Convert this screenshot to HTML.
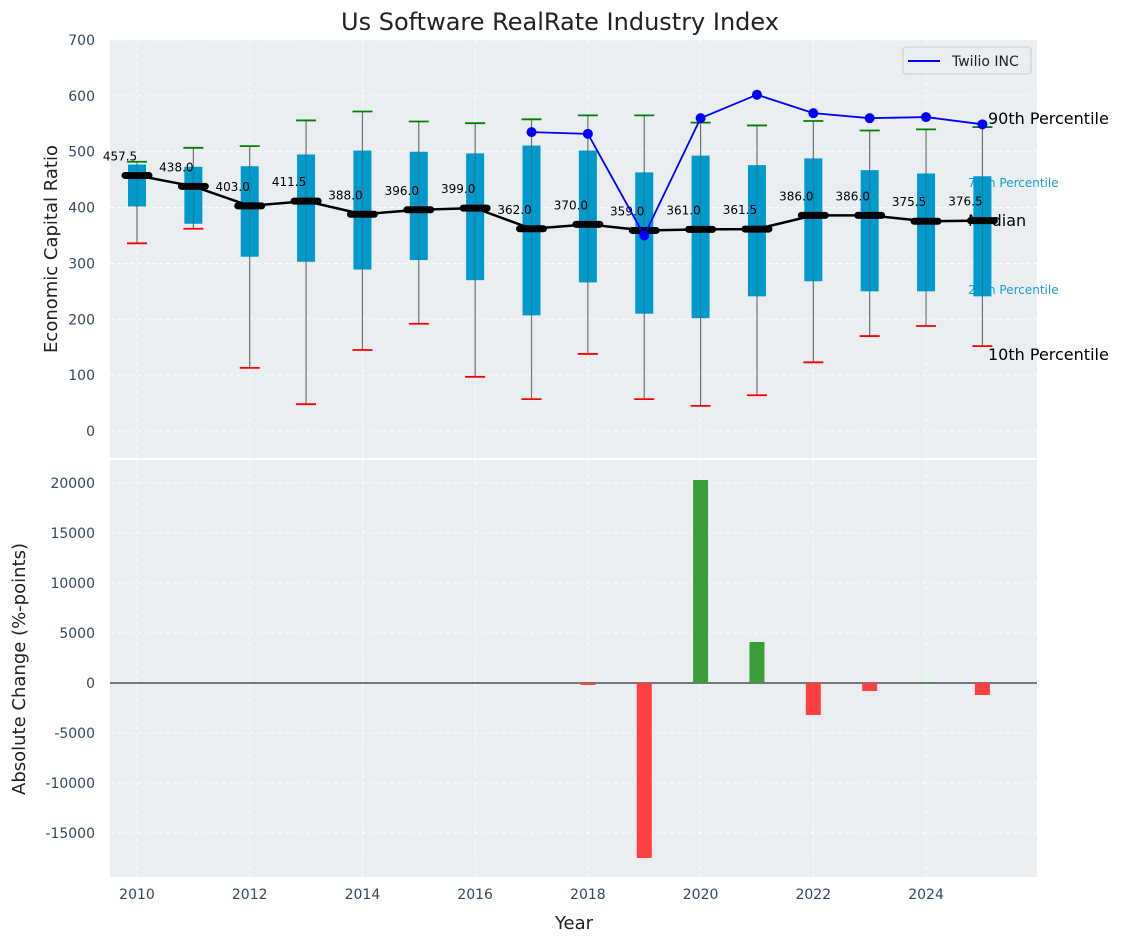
<!DOCTYPE html>
<html><head><meta charset="utf-8"><style>
body{margin:0;background:#fff;font-family:"Liberation Sans","DejaVu Sans",sans-serif;}
svg text{font-family:"DejaVu Sans","Liberation Sans",sans-serif;}
</style></head><body>
<svg id="chart" width="1123" height="942" xmlns="http://www.w3.org/2000/svg">
<rect x="110" y="40" width="927" height="418" fill="#eaeef0"/>
<rect x="110" y="460" width="927" height="417" fill="#eaeef0"/>
<text x="560" y="30" text-anchor="middle" font-size="24" fill="#222">Us Software RealRate Industry Index</text>
<g id="g"></g>
</svg>
<script>
const years=[2010,2011,2012,2013,2014,2015,2016,2017,2018,2019,2020,2021,2022,2023,2024,2025];
const p10=[336,362,113,48,145,192,97,57,138,57,45,64,123,170,188,152];
const p25=[402,371,312,303,289,306,270,207,266,210,202,241,268,250,250,241];
const median=[457.5,438.0,403.0,411.5,388.0,396.0,399.0,362.0,370.0,359.0,361.0,361.5,386.0,386.0,375.5,376.5];
const p75=[477,473,474,495,502,500,497,511,502,463,493,476,488,467,461,456];
const p90=[482,507,510,556,572,554,551,558,565,565,552,547,555,538,540,544];
const twilioYears=[2017,2018,2019,2020,2021,2022,2023,2024,2025];
const twilio=[535,532,350,560,602,569,560,562,549];
const changeYears=[2018,2019,2020,2021,2022,2023,2024,2025];
const changes=[-200,-17500,20300,4100,-3200,-800,100,-1200];
const yTicksTop=[0,100,200,300,400,500,600,700];
const yTicksBot=[-15000,-10000,-5000,0,5000,10000,15000,20000];
const xTicks=[2010,2012,2014,2016,2018,2020,2022,2024];

const X=v=>137+(v-2010)*56.36;
const Y=v=>431-v*0.5586;
const Yb=v=>683-v*0.01;
const g=document.getElementById('g');
const NS='http://www.w3.org/2000/svg';
function mk(t,a,txt){const e=document.createElementNS(NS,t);for(const k in a)e.setAttribute(k,a[k]);if(txt!==undefined)e.textContent=txt;g.appendChild(e);return e;}

// grids & ticks
yTicksTop.forEach(v=>{let e=mk('line',{x1:110,x2:1037,y1:Y(v),y2:Y(v),stroke:'#fff','stroke-dasharray':'4,3','stroke-width':0.8});

let t=mk('text',{x:95,y:Y(v)+5,'text-anchor':'end','font-size':14,fill:'#34495e'},v);
});
yTicksBot.forEach(v=>{let e=mk('line',{x1:110,x2:1037,y1:Yb(v),y2:Yb(v),stroke:'#fff','stroke-dasharray':'4,3','stroke-width':0.8});

let t=mk('text',{x:95,y:Yb(v)+5,'text-anchor':'end','font-size':14,fill:'#34495e'},v);
});
xTicks.forEach(v=>{[[40,458],[460,877]].forEach(r=>{let e=mk('line',{x1:X(v),x2:X(v),y1:r[0],y2:r[1],stroke:'#fff','stroke-dasharray':'4,3','stroke-width':0.8});
});
let t=mk('text',{x:X(v),y:899,'text-anchor':'middle','font-size':14,fill:'#34495e'},v);
});

// annotations (under boxes)
[['90th Percentile',988,124,16,'#000'],['75th Percentile',968,187,12,'#1a9fd0'],['Median',968,226,16,'#000'],['25th Percentile',968,294,12,'#1a9fd0'],['10th Percentile',988,360,16,'#000']].forEach(a=>{
let t=mk('text',{x:a[1],y:a[2],'font-size':a[3],fill:a[4]},a[0]);});

// boxes
years.forEach((yr,i)=>{const x=X(yr);
let w=mk('line',{x1:x,x2:x,y1:Y(p10[i]),y2:Y(p90[i]),stroke:'#888','stroke-width':1.2});

let b=mk('rect',{x:x-9,y:Y(p75[i]),width:18,height:Y(p25[i])-Y(p75[i]),fill:'#0099cc'});

let w2=mk('line',{x1:x,x2:x,y1:Y(p10[i]),y2:Y(p90[i]),stroke:'#555','stroke-width':0.8,opacity:0.6});

let c1=mk('line',{x1:x-10,x2:x+10,y1:Y(p90[i]),y2:Y(p90[i]),stroke:'green','stroke-width':1.8});

let c2=mk('line',{x1:x-10,x2:x+10,y1:Y(p10[i]),y2:Y(p10[i]),stroke:'red','stroke-width':1.8});
});
// median line
let ml=mk('polyline',{points:years.map((yr,i)=>X(yr)+','+Y(median[i])).join(' '),fill:'none',stroke:'#000','stroke-width':2.5});

years.forEach((yr,i)=>{const x=X(yr);
let m=mk('line',{x1:x-12,x2:x+12,y1:Y(median[i]),y2:Y(median[i]),stroke:'#000','stroke-width':7,'stroke-linecap':'round'});

let t=mk('text',{x:x-17,y:Y(median[i])-15,'text-anchor':'middle','font-size':12,fill:'#000'},median[i].toFixed(1));
});
// twilio
let tl=mk('polyline',{points:twilioYears.map((yr,i)=>X(yr)+','+Y(twilio[i])).join(' '),fill:'none',stroke:'#0000ff','stroke-width':1.8});

twilioYears.forEach((yr,i)=>{let c=mk('circle',{cx:X(yr),cy:Y(twilio[i]),r:5,fill:'#0000ff'});
});

// bars
let zl=mk('line',{x1:110,x2:1037,y1:Yb(0),y2:Yb(0),stroke:'#000','stroke-width':1});

changeYears.forEach((yr,i)=>{const v=changes[i];const y0=Yb(Math.max(v,0)),y1=Yb(Math.min(v,0));
let b=mk('rect',{x:X(yr)-7.5,y:y0,width:15,height:Math.max(y1-y0,1),fill:v>=0?'#3a9d3a':'#ff4040'});
});

// legend
let lg=mk('rect',{x:903,y:47,width:128,height:27,rx:3,fill:'#eaeef0',stroke:'#ccc'});

let ll=mk('line',{x1:908,x2:940,y1:61,y2:61,stroke:'#0000ff','stroke-width':2});

let lt=mk('text',{x:952,y:66,'font-size':14,fill:'#222'},'Twilio INC');


// axis titles
let a1=mk('text',{x:57,y:249,'text-anchor':'middle','font-size':18,fill:'#222',transform:'rotate(-90 57 249)'},'Economic Capital Ratio');

let a2=mk('text',{x:25,y:669,'text-anchor':'middle','font-size':18,fill:'#222',transform:'rotate(-90 25 669)'},'Absolute Change (%-points)');

let a3=mk('text',{x:574,y:929,'text-anchor':'middle','font-size':18,fill:'#222'},'Year');

</script>
</body></html>
